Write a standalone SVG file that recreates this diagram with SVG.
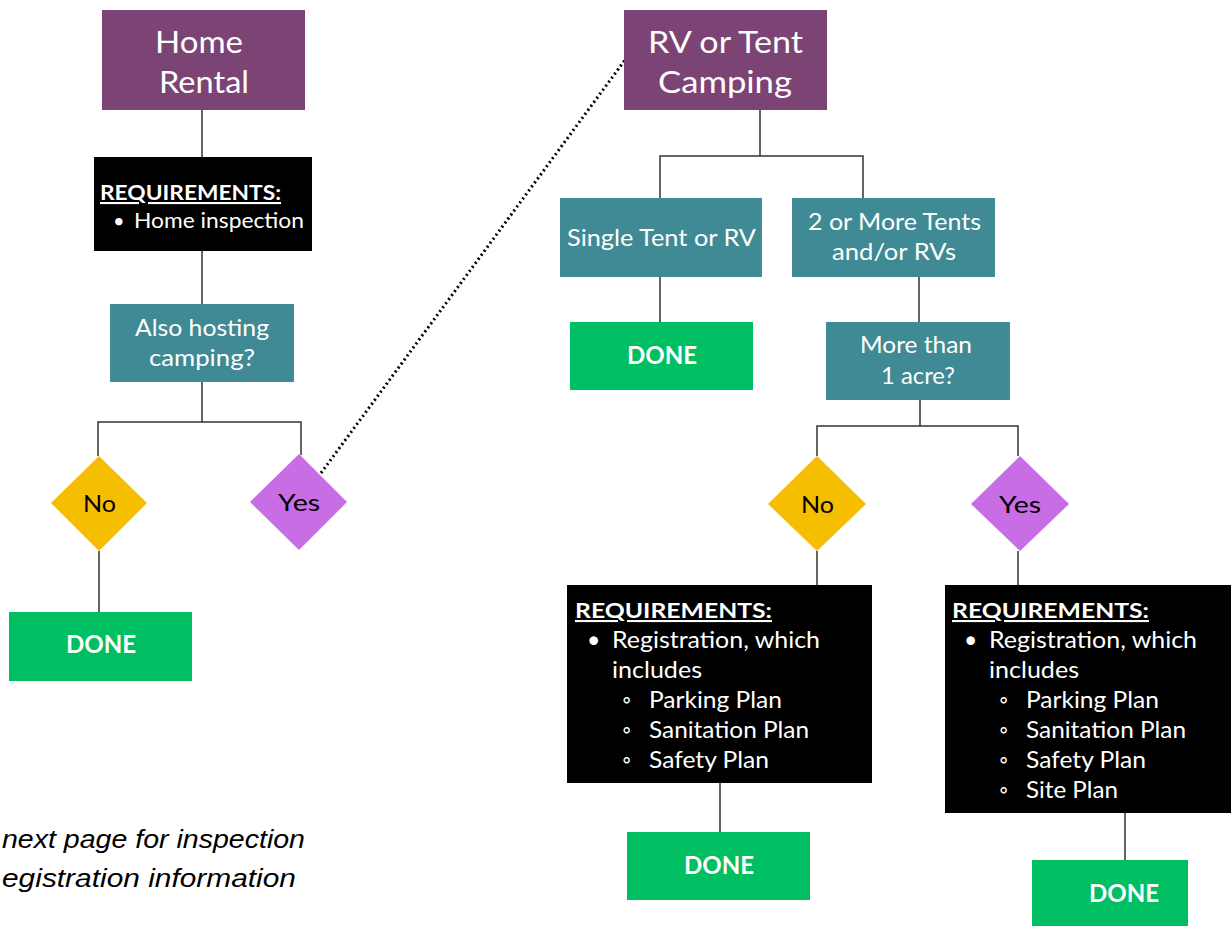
<svg xmlns="http://www.w3.org/2000/svg" width="1231" height="926" viewBox="0 0 1231 926">
<style>
.t{font-family:Lato,"Open Sans","Liberation Sans",sans-serif;fill:#fff}
.big{font-size:31px}
.mid{font-size:23px}
.dn{font-family:Lato,"Liberation Sans",sans-serif;font-weight:bold;font-size:24px;fill:#fff}
.dk{font-family:Lato,"Open Sans","Liberation Sans",sans-serif;font-size:24px;fill:#000}
.rq{font-family:Lato,"Liberation Sans",sans-serif;font-weight:bold;font-size:21px;fill:#fff;text-decoration:underline}
.purple{fill:#7B4474}
.teal{fill:#3F8A94}
.green{fill:#00BF63}
.blk{fill:#000}
.yel{fill:#F5BE00}
.pur{fill:#C86DE5}
.ln{stroke:#333;stroke-width:1.5;fill:none}
.it{font-family:"Liberation Sans",sans-serif;font-style:italic;font-size:26px;fill:#000}
</style>
<rect width="1231" height="926" fill="#fff"/>
<g id="connectors">
<path class="ln" d="M202 110V157M202 251V304M202 382V422M98 456V422H301V455M99 551V612"/>
<path class="ln" d="M760 110V156M660 198V156H863V198M660 277V322M919 277V322M920 400V426M817 456V426H1018V456M817 551V585M1018 551V585M720 783V832M1125 813V860"/>
<line x1="321" y1="473" x2="625" y2="60" stroke="#000" stroke-width="3" stroke-dasharray="2,3"/>
</g>
<g id="home-rental">
<rect class="purple" x="102" y="10" width="203" height="100"/>
<text class="t big" x="155" y="53" textLength="88" lengthAdjust="spacingAndGlyphs">Home</text>
<text class="t big" x="159" y="93" textLength="90" lengthAdjust="spacingAndGlyphs">Rental</text>
</g>
<g id="req-home">
<rect class="blk" x="94" y="157" width="218" height="94"/>
<text class="rq" x="100" y="200" textLength="181" lengthAdjust="spacingAndGlyphs">REQUIREMENTS:</text>
<text class="t" style="font-size:20px" x="113" y="228">•</text>
<text class="t" style="font-size:21px" x="134" y="228" textLength="170" lengthAdjust="spacingAndGlyphs">Home inspection</text>
</g>
<g id="also-hosting">
<rect class="teal" x="110" y="304" width="184" height="78"/>
<text class="t mid" x="135" y="336" textLength="134" lengthAdjust="spacingAndGlyphs">Also hosting</text>
<text class="t mid" x="149" y="366" textLength="106" lengthAdjust="spacingAndGlyphs">camping?</text>
</g>
<g id="no-left">
<polygon class="yel" points="99,456 147,503 99,551 51,503"/>
<text class="dk" x="83" y="512" textLength="33" lengthAdjust="spacingAndGlyphs">No</text>
</g>
<g id="yes-left">
<polygon class="pur" points="299,454 347,502 299,550 250,502"/>
<text class="dk" x="278" y="511" textLength="42" lengthAdjust="spacingAndGlyphs">Yes</text>
</g>
<g id="done-left">
<rect class="green" x="9" y="612" width="183" height="69"/>
<text class="dn" x="66" y="653" textLength="70" lengthAdjust="spacingAndGlyphs">DONE</text>
</g>
<g id="note">
<text class="it" x="2" y="848" textLength="303" lengthAdjust="spacingAndGlyphs">next page for inspection</text>
<text class="it" x="2" y="887" textLength="294" lengthAdjust="spacingAndGlyphs">egistration information</text>
</g>
<g id="rv-tent">
<rect class="purple" x="624" y="10" width="203" height="100"/>
<text class="t big" x="648" y="53" textLength="155" lengthAdjust="spacingAndGlyphs">RV or Tent</text>
<text class="t big" x="658" y="93" textLength="134" lengthAdjust="spacingAndGlyphs">Camping</text>
</g>
<g id="single">
<rect class="teal" x="560" y="198" width="202" height="79"/>
<text class="t mid" x="567" y="246" textLength="189" lengthAdjust="spacingAndGlyphs">Single Tent or RV</text>
</g>
<g id="two-more">
<rect class="teal" x="792" y="198" width="203" height="79"/>
<text class="t mid" x="808" y="230" textLength="173" lengthAdjust="spacingAndGlyphs">2 or More Tents</text>
<text class="t mid" x="832" y="260" textLength="124" lengthAdjust="spacingAndGlyphs">and/or RVs</text>
</g>
<g id="done-single">
<rect class="green" x="570" y="322" width="183" height="68"/>
<text class="dn" x="627" y="364" textLength="70" lengthAdjust="spacingAndGlyphs">DONE</text>
</g>
<g id="acre">
<rect class="teal" x="826" y="322" width="184" height="78"/>
<text class="t mid" x="860" y="353" textLength="112" lengthAdjust="spacingAndGlyphs">More than</text>
<text class="t mid" x="881" y="384" textLength="74" lengthAdjust="spacingAndGlyphs">1 acre?</text>
</g>
<g id="no-right">
<polygon class="yel" points="817,456 866,504 817,551 768,504"/>
<text class="dk" x="801" y="513" textLength="33" lengthAdjust="spacingAndGlyphs">No</text>
</g>
<g id="yes-right">
<polygon class="pur" points="1020,456 1069,504 1020,551 971,504"/>
<text class="dk" x="999" y="513" textLength="42" lengthAdjust="spacingAndGlyphs">Yes</text>
</g>
<g id="req-no">
<rect class="blk" x="567" y="585" width="305" height="198"/>
<text class="rq" x="575" y="618" textLength="197" lengthAdjust="spacingAndGlyphs">REQUIREMENTS:</text>
<g class="t mid">
<text x="587" y="648">•</text>
<text x="612" y="648" textLength="208" lengthAdjust="spacingAndGlyphs">Registration, which</text>
<text x="612" y="678" textLength="90" lengthAdjust="spacingAndGlyphs">includes</text>
<text x="622" y="708">◦</text><text x="649" y="708" textLength="133" lengthAdjust="spacingAndGlyphs">Parking Plan</text>
<text x="622" y="738">◦</text><text x="649" y="738" textLength="160" lengthAdjust="spacingAndGlyphs">Sanitation Plan</text>
<text x="622" y="768">◦</text><text x="649" y="768" textLength="120" lengthAdjust="spacingAndGlyphs">Safety Plan</text>
</g>
</g>
<g id="req-yes">
<rect class="blk" x="945" y="585" width="286" height="228"/>
<text class="rq" x="952" y="618" textLength="197" lengthAdjust="spacingAndGlyphs">REQUIREMENTS:</text>
<g class="t mid">
<text x="964" y="648">•</text>
<text x="989" y="648" textLength="208" lengthAdjust="spacingAndGlyphs">Registration, which</text>
<text x="989" y="678" textLength="90" lengthAdjust="spacingAndGlyphs">includes</text>
<text x="999" y="708">◦</text><text x="1026" y="708" textLength="133" lengthAdjust="spacingAndGlyphs">Parking Plan</text>
<text x="999" y="738">◦</text><text x="1026" y="738" textLength="160" lengthAdjust="spacingAndGlyphs">Sanitation Plan</text>
<text x="999" y="768">◦</text><text x="1026" y="768" textLength="120" lengthAdjust="spacingAndGlyphs">Safety Plan</text>
<text x="999" y="798">◦</text><text x="1026" y="798" textLength="92" lengthAdjust="spacingAndGlyphs">Site Plan</text>
</g>
</g>
<g id="done-no">
<rect class="green" x="627" y="832" width="183" height="68"/>
<text class="dn" x="684" y="874" textLength="70" lengthAdjust="spacingAndGlyphs">DONE</text>
</g>
<g id="done-yes">
<rect class="green" x="1032" y="860" width="156" height="66"/>
<text class="dn" x="1089" y="902" textLength="70" lengthAdjust="spacingAndGlyphs">DONE</text>
</g>
</svg>
